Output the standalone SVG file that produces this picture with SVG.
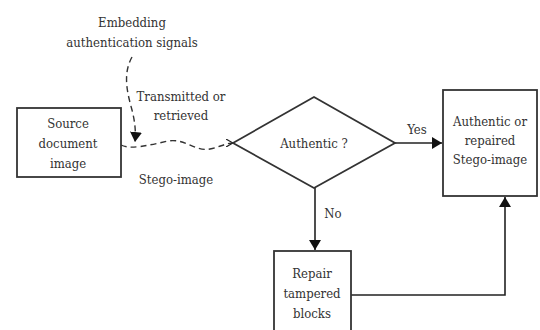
<svg xmlns="http://www.w3.org/2000/svg" width="540" height="330" viewBox="0 0 540 330">
<style>
text{font-family:"DejaVu Serif Condensed","DejaVu Serif",serif;font-stretch:condensed;font-size:13px;fill:#333;text-anchor:middle}
.box{fill:#fff;stroke:#333;stroke-width:1.8}
.ln{fill:none;stroke:#222;stroke-width:1.6}
.dash{fill:none;stroke:#333;stroke-width:1.4;stroke-dasharray:6,4}
</style>
<defs>
<marker id="ah" markerWidth="10" markerHeight="12" refX="10" refY="6" orient="auto" markerUnits="userSpaceOnUse"><path d="M0,0 L10,6 L0,12 Z" fill="#111"/></marker>
<marker id="oh" markerWidth="8" markerHeight="8" refX="7" refY="4" orient="auto" markerUnits="userSpaceOnUse"><path d="M0,0 L7,4 L0,8" fill="none" stroke="#222" stroke-width="1.2"/></marker>
</defs>
<rect width="540" height="330" fill="#fff"/>
<g id="labels">
<text x="132" y="27">Embedding</text>
<text x="132" y="47">authentication signals</text>
<text x="181" y="101">Transmitted or</text>
<text x="181" y="120">retrieved</text>
<text x="176" y="184">Stego-image</text>
<text x="417" y="134">Yes</text>
<text x="333" y="218">No</text>
</g>
<g id="connectors">
<path class="dash" d="M132,57 C122,75 128,95 132,110 C135,122 136,132 135,142" marker-end="url(#ah)"/>
<path class="dash" d="M121,145 C130,150 150,145 168,141 C185,138 195,152 210,149 C220,147 226,143 233,143" marker-end="url(#oh)"/>
<line class="ln" x1="395" y1="143" x2="442" y2="143" marker-end="url(#ah)"/>
<line class="ln" x1="315" y1="188" x2="315" y2="250" marker-end="url(#ah)"/>
<polyline class="ln" points="351,295 505,295 505,197" marker-end="url(#ah)"/>
</g>
<g id="source">
<rect class="box" x="17" y="108" width="104" height="69"/>
<text x="68" y="128">Source</text>
<text x="68" y="148">document</text>
<text x="68" y="168">image</text>
</g>
<g id="decision">
<polygon class="box" points="233,143 314,97 395,143 314,188"/>
<text x="314" y="148">Authentic ?</text>
</g>
<g id="result">
<rect class="box" x="443" y="90" width="94" height="106"/>
<text x="490" y="126">Authentic or</text>
<text x="490" y="145">repaired</text>
<text x="490" y="164">Stego-image</text>
</g>
<g id="repair">
<rect class="box" x="274" y="251" width="77" height="90"/>
<text x="312" y="278">Repair</text>
<text x="312" y="298">tampered</text>
<text x="312" y="318">blocks</text>
</g>
</svg>
